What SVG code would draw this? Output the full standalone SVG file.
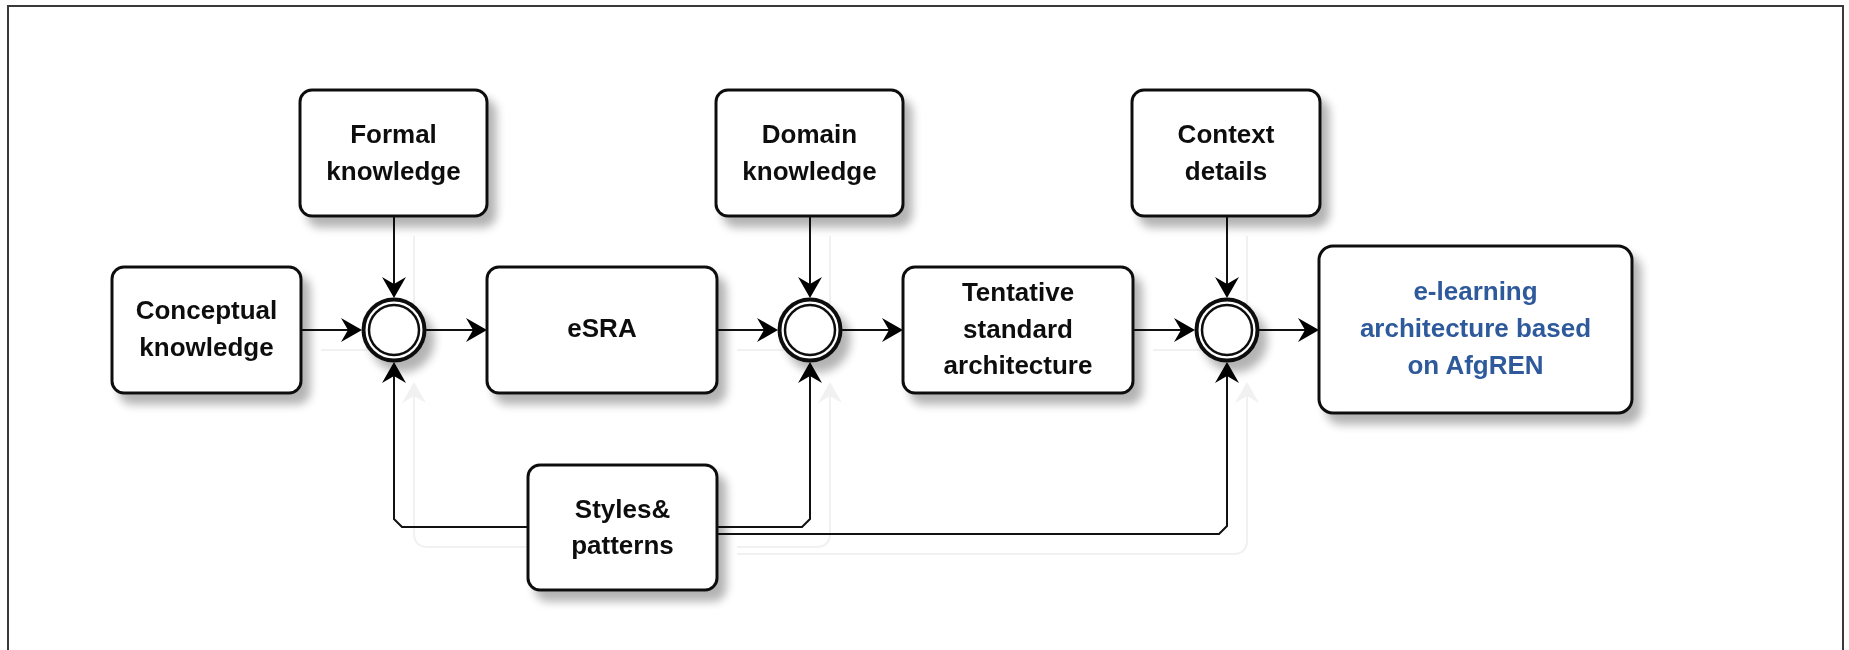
<svg xmlns="http://www.w3.org/2000/svg" width="1849" height="650" viewBox="0 0 1849 650">
<defs>
<filter id="sh" x="-20%" y="-20%" width="150%" height="160%">
<feGaussianBlur in="SourceAlpha" stdDeviation="5"/>
<feOffset dx="8" dy="10" result="b"/>
<feComponentTransfer><feFuncA type="linear" slope="0.3"/></feComponentTransfer>
<feMerge><feMergeNode/><feMergeNode in="SourceGraphic"/></feMerge>
</filter>
<marker id="arr" viewBox="-22 -13 26 26" markerWidth="26" markerHeight="26" refX="0" refY="0" orient="auto" markerUnits="userSpaceOnUse">
<path d="M3,0 L-18,-12 L-11,0 L-18,12 Z" fill="#000"/>
</marker>
<marker id="garr" viewBox="-22 -13 26 26" markerWidth="26" markerHeight="26" refX="0" refY="0" orient="auto" markerUnits="userSpaceOnUse">
<path d="M3,0 L-18,-12 L-11,0 L-18,12 Z" fill="#f1f1f1"/>
</marker>
</defs>
<style>
.box{fill:#fff;stroke:#111;stroke-width:3}
.t{font-family:"Liberation Sans",Arial,sans-serif;font-weight:bold;font-size:26px;fill:#111;text-anchor:middle}
.blue{fill:#2E5A9C}
.c{fill:none;stroke:#111;stroke-width:2}
.g{fill:none;stroke:#f1f1f1;stroke-width:2}
.ring{fill:#fff;stroke:#111;stroke-width:4}
.ring2{fill:none;stroke:#111;stroke-width:2.5}
</style>
<rect x="8" y="6" width="1835" height="660" fill="#fff" stroke="#3a3a3a" stroke-width="2"/>

<g id="ghosts">
<g transform="translate(20,20)">
<path class="g" d="M301,330 H359"/>
<path class="g" d="M394,216 V295"/>
<path class="g" d="M528,527 H408 Q394,527 394,513 V365" marker-end="url(#garr)"/>
<path class="g" d="M717,527 H796 Q810,527 810,513 V365" marker-end="url(#garr)"/>
<path class="g" d="M717,534 H1213 Q1227,534 1227,520 V365" marker-end="url(#garr)"/>
<path class="g" d="M810,216 V295"/>
<path class="g" d="M1227,216 V295"/>
<path class="g" d="M717,330 H775"/>
<path class="g" d="M1133,330 H1192"/>
</g>
</g>

<g id="connectors">
<path class="c" d="M301,330 H359" marker-end="url(#arr)"/>
<path class="c" d="M394,216 V295" marker-end="url(#arr)"/>
<path class="c" d="M426,330 H484" marker-end="url(#arr)"/>
<path class="c" d="M717,330 H775" marker-end="url(#arr)"/>
<path class="c" d="M810,216 V295" marker-end="url(#arr)"/>
<path class="c" d="M842,330 H900" marker-end="url(#arr)"/>
<path class="c" d="M1133,330 H1192" marker-end="url(#arr)"/>
<path class="c" d="M1227,216 V295" marker-end="url(#arr)"/>
<path class="c" d="M1259,330 H1316" marker-end="url(#arr)"/>
<path class="c" d="M528,527 H402 L394,519 V365" marker-end="url(#arr)"/>
<path class="c" d="M717,527 H802 L810,519 V365" marker-end="url(#arr)"/>
<path class="c" d="M717,534 H1219 L1227,526 V365" marker-end="url(#arr)"/>
</g>

<g id="conceptual" filter="url(#sh)">
<rect class="box" x="112" y="267" width="189" height="126" rx="12"/>
<text class="t" x="206.5" y="319">Conceptual</text>
<text class="t" x="206.5" y="356">knowledge</text>
</g>
<g id="formal" filter="url(#sh)">
<rect class="box" x="300" y="90" width="187" height="126" rx="12"/>
<text class="t" x="393.5" y="143">Formal</text>
<text class="t" x="393.5" y="180">knowledge</text>
</g>
<g id="esra" filter="url(#sh)">
<rect class="box" x="487" y="267" width="230" height="126" rx="12"/>
<text class="t" x="602" y="337">eSRA</text>
</g>
<g id="domain" filter="url(#sh)">
<rect class="box" x="716" y="90" width="187" height="126" rx="12"/>
<text class="t" x="809.5" y="143">Domain</text>
<text class="t" x="809.5" y="180">knowledge</text>
</g>
<g id="tentative" filter="url(#sh)">
<rect class="box" x="903" y="267" width="230" height="126" rx="12"/>
<text class="t" x="1018" y="301">Tentative</text>
<text class="t" x="1018" y="337.5">standard</text>
<text class="t" x="1018" y="374">architecture</text>
</g>
<g id="context" filter="url(#sh)">
<rect class="box" x="1132" y="90" width="188" height="126" rx="12"/>
<text class="t" x="1226" y="143">Context</text>
<text class="t" x="1226" y="180">details</text>
</g>
<g id="elearning" filter="url(#sh)">
<rect class="box" x="1319" y="246" width="313" height="167" rx="14"/>
<text class="t blue" x="1475.5" y="300">e-learning</text>
<text class="t blue" x="1475.5" y="337">architecture based</text>
<text class="t blue" x="1475.5" y="374">on AfgREN</text>
</g>
<g id="styles" filter="url(#sh)">
<rect class="box" x="528" y="465" width="189" height="125" rx="12"/>
<text class="t" x="622.5" y="518">Styles&amp;</text>
<text class="t" x="622.5" y="554">patterns</text>
</g>

<g id="merge1" filter="url(#sh)">
<circle class="ring" cx="394" cy="330" r="30.5"/>
<circle class="ring2" cx="394" cy="330" r="25"/>
</g>
<g id="merge2" filter="url(#sh)">
<circle class="ring" cx="810" cy="330" r="30.5"/>
<circle class="ring2" cx="810" cy="330" r="25"/>
</g>
<g id="merge3" filter="url(#sh)">
<circle class="ring" cx="1227" cy="330" r="30.5"/>
<circle class="ring2" cx="1227" cy="330" r="25"/>
</g>
</svg>
